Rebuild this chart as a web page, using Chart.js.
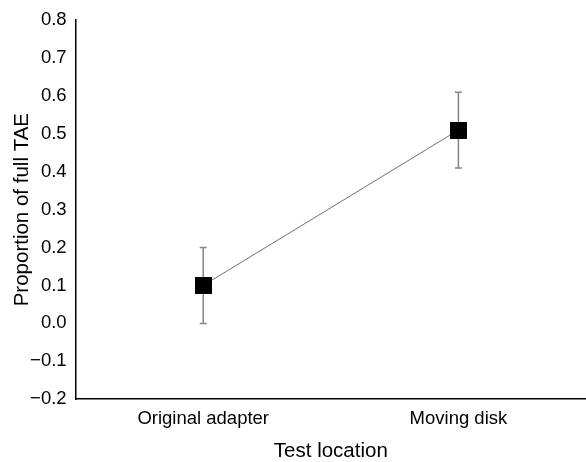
<!DOCTYPE html>
<html>
<head>
<meta charset="utf-8">
<script src="https://cdn.jsdelivr.net/npm/chart.js@4"></script>
<style>
  html, body { margin: 0; padding: 0; background: #fff; }
  #grafico { display: block; }
</style>
</head>
<body>
<canvas id="grafico" width="586" height="462"></canvas>
<script>
const locations = ['Original adapter', 'Moving disk'];
const meanTAE = [0.1, 0.51];
const errTAE = [0.1, 0.1];
const yTicks = [-0.2, -0.1, 0.0, 0.1, 0.2, 0.3, 0.4, 0.5, 0.6, 0.7, 0.8];

const FONT = '"Liberation Sans", Arial, Helvetica, sans-serif';

// filled square marker drawn as an image
const square = document.createElement('canvas');
square.width = 17;
square.height = 17;
const sq = square.getContext('2d');
sq.fillStyle = '#000';
sq.fillRect(0, 0, 17, 17);

// vertical error bars with small caps, drawn under the markers
const errorBars = {
    id: 'errorBars',
    beforeDatasetsDraw(chart) {
        const ctx = chart.ctx;
        const xs = chart.scales.x;
        const ys = chart.scales.y;
        ctx.save();
        ctx.strokeStyle = '#858585';
        ctx.lineWidth = 1.5;
        meanTAE.forEach((m, i) => {
            const x = xs.getPixelForValue(i);
            const top = ys.getPixelForValue(m + errTAE[i]);
            const bot = ys.getPixelForValue(m - errTAE[i]);
            ctx.beginPath();
            ctx.moveTo(x, top);
            ctx.lineTo(x, bot);
            ctx.moveTo(x - 3.5, top);
            ctx.lineTo(x + 3.5, top);
            ctx.moveTo(x - 3.5, bot);
            ctx.lineTo(x + 3.5, bot);
            ctx.stroke();
        });
        ctx.restore();
    }
};

const ctx = document.getElementById('grafico');

new Chart(ctx, {
    type: 'line',
    data: {
        labels: locations,
        datasets: [{
            data: meanTAE,
            borderColor: '#707070',
            borderWidth: 1,
            pointStyle: square,
            pointRadius: 1,
            pointBorderWidth: 0
        }]
    },
    options: {
        responsive: false,
        animation: false,
        layout: { autoPadding: false, padding: { top: 20, right: 0, bottom: 0, left: 10 } },
        plugins: {
            legend: { display: false },
            tooltip: { enabled: false }
        },
        scales: {
            x: {
                offset: true,
                grid: { display: false, drawTicks: false },
                border: { display: true, color: '#000', width: 1.5 },
                ticks: { color: '#000', padding: 9, font: { family: FONT, size: 18.5 } },
                title: {
                    display: true,
                    text: 'Test location',
                    color: '#000',
                    padding: { top: 0, bottom: -2 },
                    font: { family: FONT, size: 20.5 }
                }
            },
            y: {
                min: -0.2,
                max: 0.8,
                afterBuildTicks: (axis) => { axis.ticks = yTicks.map(v => ({ value: v })); },
                grid: { display: false, drawTicks: false },
                border: { display: true, color: '#000', width: 1.5 },
                ticks: {
                    color: '#000',
                    padding: 9,
                    font: { family: FONT, size: 18.5 },
                    callback: (v) => v.toFixed(1).replace('-', '\u2212')
                },
                title: {
                    display: true,
                    text: 'Proportion of full TAE',
                    color: '#000',
                    padding: { top: 0, bottom: -13.5 },
                    font: { family: FONT, size: 20.5 }
                }
            }
        }
    },
    plugins: [errorBars]
});
</script>
</body>
</html>
